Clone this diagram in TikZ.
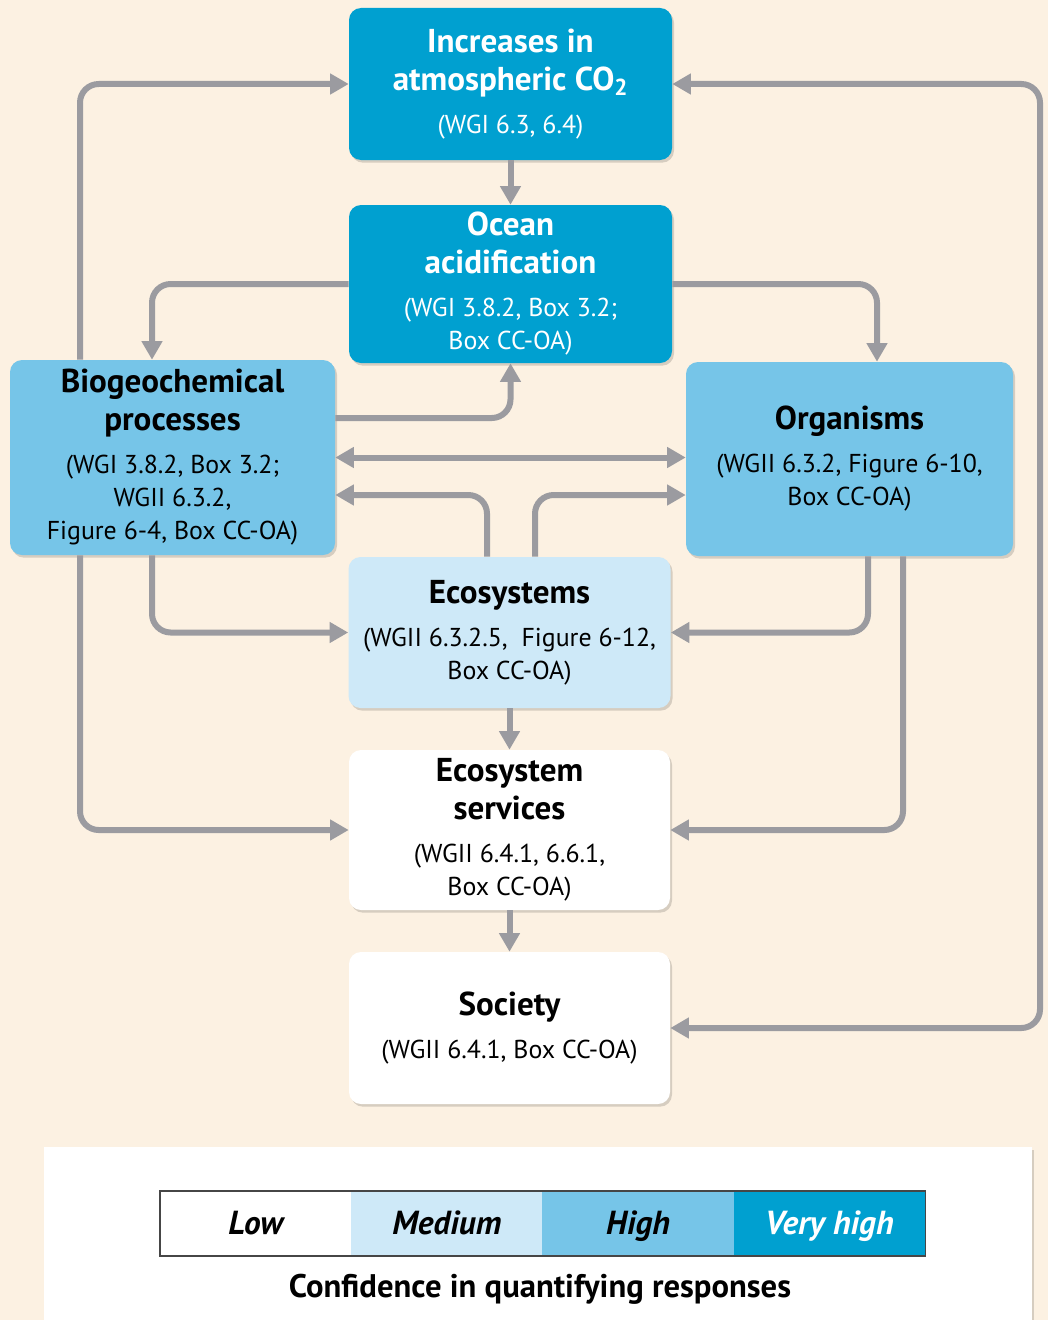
\documentclass[tikz,border=0pt]{standalone}
\usepackage{fontspec}
\setmainfont{PT Sans}
\usetikzlibrary{arrows.meta,shadows}

\definecolor{paper}{RGB}{252,241,226}
\definecolor{vhigh}{RGB}{0,160,208}
\definecolor{high}{RGB}{118,197,232}
\definecolor{medium}{RGB}{206,233,248}
\definecolor{flow}{RGB}{155,155,160}
\definecolor{barline}{RGB}{70,70,70}

\newcommand\ttl{\fontsize{24.8}{28}\selectfont\bfseries}
\newcommand\rfs{\fontsize{19.4}{24.75}\selectfont}
\newcommand\lgd{\fontsize{25}{28}\selectfont\bfseries\itshape}

\tikzset{
  card/.style={rounded corners=9pt, align=center, inner sep=0pt, font=\rfs,
    drop shadow={shadow xshift=1.5pt, shadow yshift=-2pt, opacity=0.15, fill=black}},
  vh/.style={card, fill=vhigh, text=white},
  hi/.style={card, fill=high},
  md/.style={card, fill=medium},
  lo/.style={card, fill=white},
  >={Triangle[length=14pt,width=15pt]},
  arr/.style={draw=flow, line width=4.5pt, rounded corners=14pt, ->},
  seg/.style={minimum width=143.4375pt, minimum height=48.75pt, inner sep=0pt,
    text height=17pt, text depth=1pt, font=\lgd},
}

\begin{document}
\begin{tikzpicture}[x=0.75pt,y=-0.75pt]
  \useasboundingbox (0,0) rectangle (1048,1320);
  \clip (0,0) rectangle (1048,1320);
  \fill[paper] (0,0) rectangle (1048,1320);

  % process boxes
  \node[vh, minimum width=242.25pt, minimum height=114pt] (co2) at (510.5,84)
    {{\ttl Increases in}\\[3.75pt]{\ttl atmospheric CO\textsubscript{2}}\\[7.5pt](WGI 6.3, 6.4)};
  \node[vh, minimum width=242.25pt, minimum height=118.5pt] (ocean) at (510.5,284)
    {{\ttl Ocean}\\[3.75pt]{\ttl acidification}\\[7.5pt](WGI 3.8.2, Box 3.2;\\Box CC-OA)};
  \node[hi, minimum width=243.75pt, minimum height=146.25pt] (bio) at (172.5,457.5)
    {{\ttl Biogeochemical}\\[3.75pt]{\ttl processes}\\[7.5pt](WGI 3.8.2, Box 3.2;\\WGII 6.3.2,\\Figure 6-4, Box CC-OA)};
  \node[hi, minimum width=245.25pt, minimum height=145.5pt] (org) at (849.5,459)
    {{\ttl Organisms}\\[7.5pt](WGII 6.3.2, Figure 6-10,\\Box CC-OA)};
  \node[md, minimum width=241.5pt, minimum height=113.25pt] (eco) at (509.5,632.5)
    {{\ttl Ecosystems}\\[7.5pt](WGII 6.3.2.5,\ \ Figure 6-12,\\Box CC-OA)};
  \node[lo, minimum width=240.75pt, minimum height=120pt] (ess) at (509.5,830)
    {{\ttl Ecosystem}\\[3.75pt]{\ttl services}\\[7.5pt](WGII 6.4.1, 6.6.1,\\Box CC-OA)};
  \node[lo, minimum width=240.75pt, minimum height=114pt] (soc) at (509.5,1028)
    {{\ttl Society}\\[7.5pt](WGII 6.4.1, Box CC-OA)};

  % helper positions for the connector lanes
  \coordinate (xa) at (80,0);
  \coordinate (xb) at (152,0);
  \coordinate (xc) at (877,0);
  \coordinate (xd) at (868,0);
  \coordinate (xe) at (903,0);
  \coordinate (xf) at (487,0);
  \coordinate (xg) at (535,0);
  \coordinate (xr) at (1040,500);
  \coordinate (ya) at (0,418);
  \coordinate (yb) at (0,495);

  % connectors
  \draw[arr] (bio.north -| xa) |- (co2.west);
  \draw[arr,<->] (soc.east) -| (xr) |- (co2.east);
  \draw[arr] (co2.south) -- (ocean.north);
  \draw[arr] (ocean.west) -| (bio.north -| xb);
  \draw[arr] (ocean.east) -| (org.north -| xc);
  \draw[arr] (bio.east |- ya) -| (ocean.south);
  \draw[arr,<->] (bio.east) -- (bio.east -| org.west);
  \draw[arr] (eco.north -| xf) |- (bio.east |- yb);
  \draw[arr] (eco.north -| xg) |- (org.west |- yb);
  \draw[arr] (bio.south -| xb) |- (eco.west);
  \draw[arr] (org.south -| xd) |- (eco.east);
  \draw[arr] (eco.south) -- (ess.north);
  \draw[arr] (bio.south -| xa) |- (ess.west);
  \draw[arr] (org.south -| xe) |- (ess.east);
  \draw[arr] (ess.south) -- (soc.north);

  % confidence legend
  \node[fill=white, minimum width=741pt, minimum height=144.75pt, inner sep=0pt,
    drop shadow={shadow xshift=1.5pt, shadow yshift=-2pt, opacity=0.15, fill=black}]
    (panel) at (538,1243.5) {};
  \node[seg, fill=white] (low) at (255.6,1223.5) {Low};
  \node[seg, fill=medium] (med) at (446.9,1223.5) {Medium};
  \node[seg, fill=high] (hgh) at (638.1,1223.5) {High};
  \node[seg, fill=vhigh, text=white] (vhg) at (829.4,1223.5) {Very high};
  \draw[barline, line width=1.2pt] (low.north west) rectangle (vhg.south east);
  \node[font=\fontsize{24.5}{28}\selectfont\bfseries] (caption) at (540,1289)
    {Confidence in quantifying responses};
\end{tikzpicture}
\end{document}
